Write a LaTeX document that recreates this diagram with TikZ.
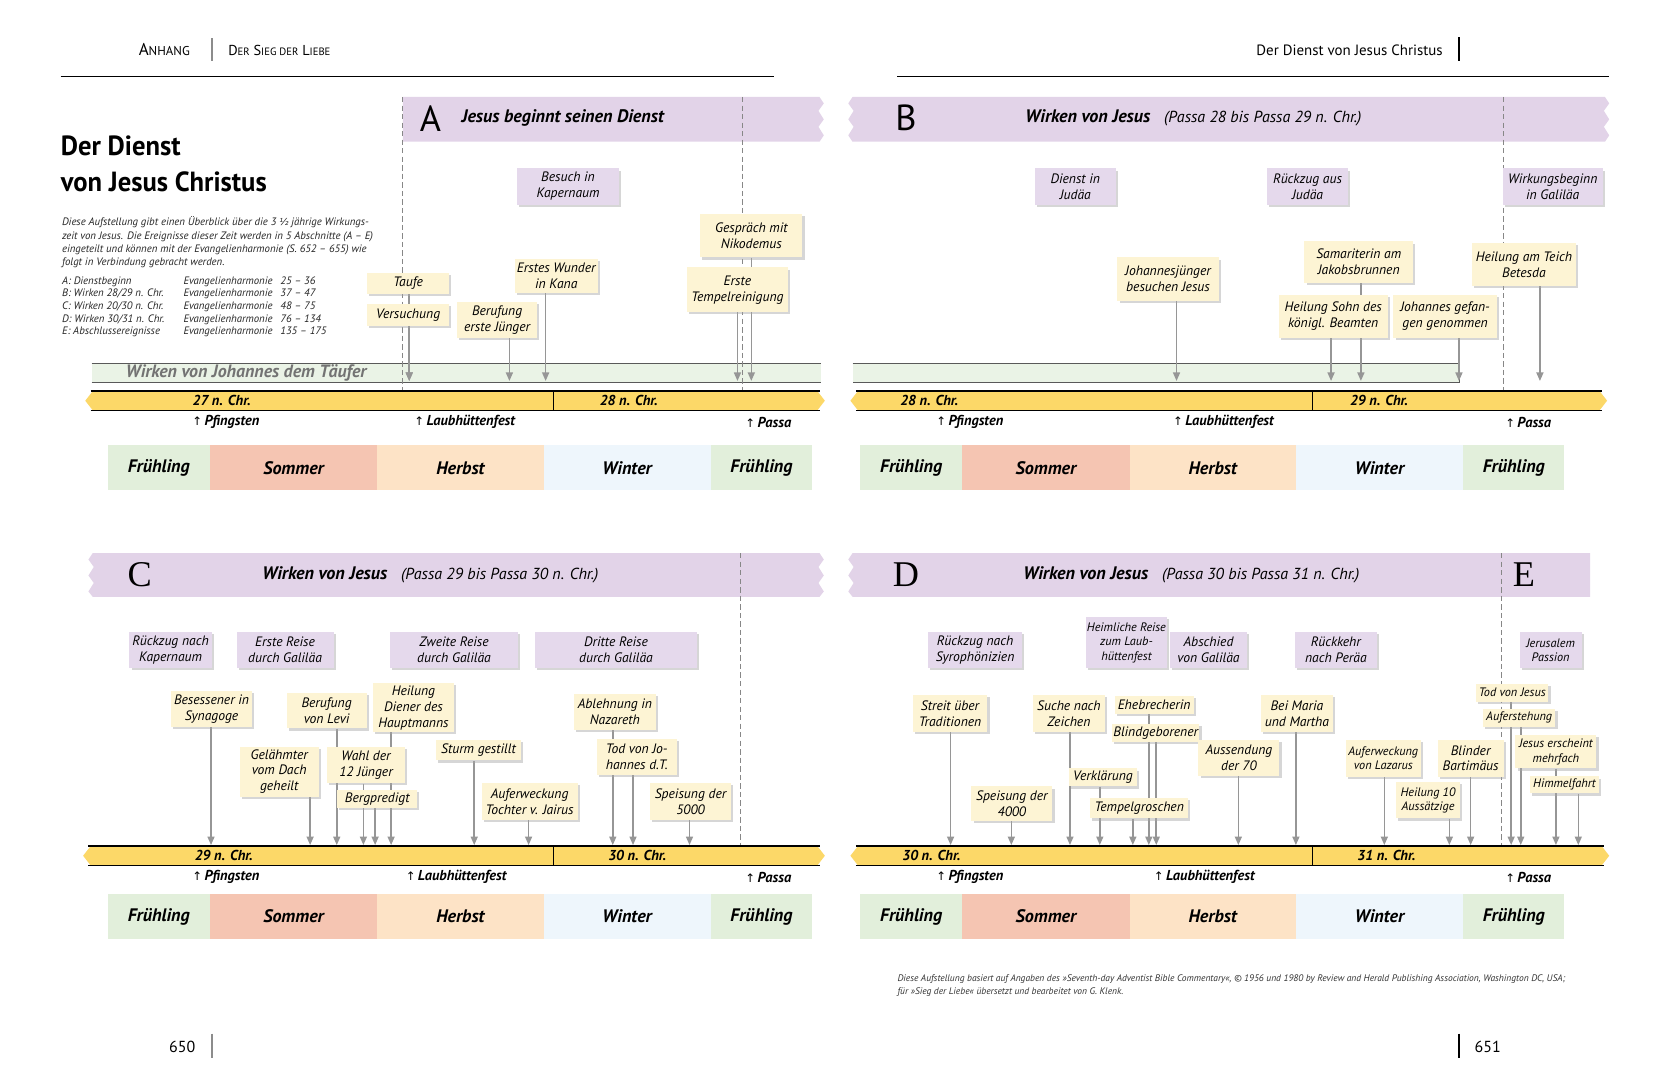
\documentclass[tikz,border=0pt]{standalone}
\usepackage{fontspec}
\setmainfont{PT Sans}
\newfontfamily\titlefont{PT Sans}[FakeStretch=0.96]
\newfontfamily\arrowfont{DejaVu Sans}
\newfontfamily\serifletter{Liberation Serif}
\usepackage{tikz}
\usetikzlibrary{positioning}
\usetikzlibrary{shapes, arrows.meta, shadows}

\definecolor{bannerlila}{RGB}{226,211,232}
\definecolor{phlila}{RGB}{229,217,236}
\definecolor{evyellow}{RGB}{253,244,212}
\definecolor{baryellow}{RGB}{252,216,104}
\definecolor{bandgreen}{RGB}{234,243,230}
\definecolor{fruehling}{RGB}{226,239,219}
\definecolor{sommer}{RGB}{245,197,178}
\definecolor{herbst}{RGB}{253,227,198}
\definecolor{winter}{RGB}{238,246,252}
\definecolor{arrowgray}{RGB}{150,150,150}
\definecolor{dashgray}{RGB}{135,135,135}

\newcommand{\evfont}{\itshape\fontsize{12.8}{15}\selectfont}
\newcommand{\evsmall}{\itshape\fontsize{11.5}{13.5}\selectfont}
\newcommand{\boldit}{\bfseries\itshape}
\newcommand{\feastup}{{\arrowfont\mdseries\upshape\fontsize{11}{11}\selectfont ↑}\,}

\tikzstyle{evbox}     = [rectangle, fill=evyellow, font=\evfont, align=center,
                         inner sep=1pt, minimum height=18pt,
                         drop shadow={shadow xshift=2pt, shadow yshift=-2pt, fill=black!35, opacity=0.45}]
\tikzstyle{phbox}     = [rectangle, fill=phlila, font=\evfont, align=center,
                         inner sep=1pt, minimum height=34pt,
                         drop shadow={shadow xshift=2pt, shadow yshift=-2pt, fill=black!35, opacity=0.45}]
\tikzstyle{seasonbox} = [rectangle, minimum height=42pt, inner sep=0pt,
                         font=\boldit\fontsize{17}{17}\selectfont]
\tikzstyle{evarrow}   = [draw=arrowgray, line width=1.5pt, -{Triangle[length=8pt, width=6.5pt]}]
\tikzstyle{phaseline} = [draw=dashgray, line width=1.1pt, dash pattern=on 5pt off 3pt]
\tikzstyle{yearlabel} = [font=\boldit\fontsize{13.5}{13.5}\selectfont, inner sep=0pt]
\tikzstyle{feast}     = [font=\boldit\fontsize{13.5}{13.5}\selectfont, inner sep=0pt]
\tikzstyle{bannertitle}  = [anchor=west, inner sep=0pt, font=\fontsize{17}{17}\selectfont]
\tikzstyle{bannerletter} = [inner sep=0pt, font=\fontsize{34}{34}\selectfont]

\newcommand{\paren}[1]{{\mdseries\itshape\fontsize{15}{15}\selectfont #1}}

\pgfdeclarelayer{bg}
\pgfsetlayers{bg,main}

\begin{document}
\begin{tikzpicture}[x=1pt, y=-1pt]
\begin{pgfonlayer}{bg}
\fill[white] (0,0) rectangle (1568,1013);
\end{pgfonlayer}
\useasboundingbox (0,0) rectangle (1568,1013);

% page head
\node[anchor=base west, inner sep=0pt, font=\fontsize{16}{16}\selectfont] (anhang) at (130,52) {A{\fontsize{12}{12}\selectfont NHANG}};
\draw[black!45, line width=1.5pt] (199,36) -- (199,57);
\node[anchor=base west, inner sep=0pt, font=\fontsize{13.5}{13.5}\selectfont] (sieg) at (214,52)
  {D{\fontsize{10}{10}\selectfont ER} S{\fontsize{10}{10}\selectfont IEG DER} L{\fontsize{10}{10}\selectfont IEBE}};
\node[anchor=base east, inner sep=0pt, font=\fontsize{14}{14}\selectfont] (kopf) at (1354,52) {Der Dienst von Jesus Christus};
\draw[line width=2.5pt] (1369,35) -- (1369,57);
\draw[line width=0.9pt] (57,72) -- (726,72);
\draw[line width=0.9pt] (842,72) -- (1510,72);

% title and intro
\node[anchor=base west, inner sep=0pt, font=\titlefont\bfseries\fontsize{26}{26}\selectfont] (titel) at (57,146) {Der Dienst};
\node[anchor=base west, inner sep=0pt, font=\titlefont\bfseries\fontsize{26}{26}\selectfont] (titel2) at (57,180) {von Jesus Christus};
\node[anchor=north west, inner sep=0pt, align=left, text=black!85, font=\itshape\fontsize{10.1}{12.6}\selectfont] (intro) at (58,203)
  {Diese Aufstellung gibt einen Überblick über die 3 {\arrowfont\fontsize{9}{9}\selectfont ½} jährige Wirkungs-\\
   zeit von Jesus. Die Ereignisse dieser Zeit werden in 5 Abschnitte (A – E)\\
   eingeteilt und können mit der Evangelienharmonie (S. 652 – 655) wie\\
   folgt in Verbindung gebracht werden.};
\node[anchor=north west, inner sep=0pt, text=black!85, font=\itshape\fontsize{10.1}{11.9}\selectfont] (abschnitte) at (58,258)
  {\begin{tabular}{@{}p{114pt}@{}p{91pt}@{}l@{}}
   A: Dienstbeginn & Evangelienharmonie & 25 – 36\\
   B: Wirken 28/29 n. Chr. & Evangelienharmonie & 37 – 47\\
   C: Wirken 20/30 n. Chr. & Evangelienharmonie & 48 – 75\\
   D: Wirken 30/31 n. Chr. & Evangelienharmonie & 76 – 134\\
   E: Abschlussereignisse & Evangelienharmonie & 135 – 175
   \end{tabular}};

% banners
\fill[bannerlila] (378,91) -- (769,91) -- (773,97) -- (768,104) -- (773,112) -- (768,119) -- (773,127) -- (769,133) -- (378,133) -- cycle;
\fill[bannerlila] (800,91) -- (1506,91) -- (1510,97) -- (1505,104) -- (1510,112) -- (1505,119) -- (1510,127) -- (1506,133)
  -- (800,133) -- (796,127) -- (801,119) -- (796,112) -- (801,104) -- (796,97) -- cycle;
\fill[bannerlila] (87,519) -- (769,519) -- (773,525) -- (768,532) -- (773,540) -- (768,547) -- (773,555) -- (769,560)
  -- (87,560) -- (83,555) -- (88,547) -- (83,540) -- (88,532) -- (83,525) -- cycle;
\fill[bannerlila] (800,519) -- (1492,519) -- (1492,560)
  -- (800,560) -- (796,555) -- (801,547) -- (796,540) -- (801,532) -- (796,525) -- cycle;

% phase borders
\draw[phaseline] (378,91) -- (378,367);
\draw[phaseline] (697,91) -- (697,367);
\draw[phaseline] (1411,91) -- (1411,367);
\draw[phaseline] (695,519) -- (695,794);
\draw[phaseline] (1409,519) -- (1409,794);

% year bars
\foreach \xa/\xb/\ya/\xd in {80/774/367/519, 798/1508/367/1232, 78/774/794/519, 798/1510/794/1232} {
  \fill[baryellow] (\xa+7,\ya) -- (\xb-7,\ya) -- (\xb,\ya+9) -- (\xb-7,\ya+18) -- (\xa+7,\ya+18) -- (\xa,\ya+9) -- cycle;
  \draw[line width=1.3pt] (\xa+5,\ya) -- (\xb-5,\ya) (\xa+5,\ya+18) -- (\xb-5,\ya+18);
  \draw[line width=1pt] (\xd,\ya) -- (\xd,\ya+18);
}

% seasons
\foreach \dx/\dy [count=\i] in {0/0, 706/0, 0/421, 706/421} {
  \node[seasonbox, fill=fruehling, minimum width=96pt] (fr\i) at (149+\dx,439+\dy) {Frühling};
  \node[seasonbox, fill=sommer, minimum width=157pt] (so\i) at (275.5+\dx,439+\dy) {Sommer};
  \node[seasonbox, fill=herbst, minimum width=156pt] (he\i) at (432+\dx,439+\dy) {Herbst};
  \node[seasonbox, fill=winter, minimum width=157pt] (wi\i) at (588.5+\dx,439+\dy) {Winter};
  \node[seasonbox, fill=fruehling, minimum width=95pt] (fs\i) at (714.5+\dx,439+\dy) {Frühling};
}

\coordinate (endA) at (0,357.5);
\coordinate (endB) at (0,357.5);
\coordinate (endC) at (0,793);
\coordinate (endD) at (0,793);

% ---- A ----
\node[bannerletter] (letterA) at (404,111) {A};
\node[bannertitle, font=\boldit\fontsize{17}{17}\selectfont] (titleA) at (433,111) {Jesus beginnt seinen Dienst};
\node[phbox, minimum width=96pt] (besuch) at (533,175) {Besuch in\\Kapernaum};
\node[evbox, minimum width=77pt, minimum height=20pt] (taufe) at (383,266) {Taufe};
\node[evbox, minimum width=77pt, minimum height=21pt] (versuchung) at (383,295.5) {Versuchung};
\node[evbox, minimum width=75pt, minimum height=34pt] (berufung) at (466.5,300) {Berufung\\erste Jünger};
\node[evbox, minimum width=78pt, minimum height=32pt] (wunder) at (522,259) {Erstes Wunder\\in Kana};
\node[evbox, minimum width=96pt, minimum height=41pt] (nikodemus) at (705,221) {Gespräch mit\\Nikodemus};
\node[evbox, minimum width=95pt, minimum height=42pt] (tempel) at (692,272) {Erste\\Tempelreinigung};
\node[anchor=west, inner sep=0pt, text=black!55, font=\boldit\fontsize{16.8}{16.8}\selectfont] (johannes) at (118,350) {Wirken von Johannes dem Täufer};
\node[yearlabel] (y27) at (208,376) {27 n. Chr.};
\node[yearlabel] (y28a) at (590,376) {28 n. Chr.};
\node[feast] (pfingstenA) at (212,396) {\feastup Pfingsten};
\node[feast] (laubA) at (436,396) {\feastup Laubhüttenfest};
\node[feast] (passaA) at (721,396) {\feastup Passa};

% ---- B ----
\node[bannerletter] (letterB) at (850,111) {B};
\node[bannertitle] (titleB) at (962,111) {{\boldit Wirken von Jesus}\hspace{13pt}\paren{(Passa 28 bis Passa 29 n. Chr.)}};
\node[phbox, minimum width=76pt] (judaea) at (1009,175) {Dienst in\\Judäa};
\node[phbox, minimum width=76pt] (rueckzugB) at (1227,175) {Rückzug aus\\Judäa};
\node[phbox, minimum width=94pt] (galilaea) at (1457,175) {Wirkungsbeginn\\in Galiläa};
\node[evbox, minimum width=95pt, minimum height=41pt] (johjuenger) at (1096,262) {Johannesjünger\\besuchen Jesus};
\node[evbox, minimum width=102pt, minimum height=39pt] (samariterin) at (1275,246) {Samariterin am\\Jakobsbrunnen};
\node[evbox, minimum width=102pt, minimum height=40pt] (beamten) at (1251,297) {Heilung Sohn des\\königl. Beamten};
\node[evbox, minimum width=97pt, minimum height=40pt] (gefangen) at (1356,297) {Johannes gefan-\\gen genommen};
\node[evbox, minimum width=97pt, minimum height=40pt] (betesda) at (1430,248) {Heilung am Teich\\Betesda};
\node[yearlabel] (y28b) at (872,376) {28 n. Chr.};
\node[yearlabel] (y29b) at (1294,376) {29 n. Chr.};
\node[feast] (pfingstenB) at (910,396) {\feastup Pfingsten};
\node[feast] (laubB) at (1148,396) {\feastup Laubhüttenfest};
\node[feast] (passaB) at (1434,396) {\feastup Passa};

% ---- C ----
\node[bannerletter, font=\serifletter\fontsize{34}{34}\selectfont] (letterC) at (131,539) {C};
\node[bannertitle] (titleC) at (246,539) {{\boldit Wirken von Jesus}\hspace{13pt}\paren{(Passa 29 bis Passa 30 n. Chr.)}};
\node[phbox, minimum width=77pt] (kapernaumC) at (160,610) {Rückzug nach\\Kapernaum};
\node[phbox, minimum width=91pt] (reise1) at (267.5,610) {Erste Reise\\durch Galiläa};
\node[phbox, minimum width=120pt] (reise2) at (426,610) {Zweite Reise\\durch Galiläa};
\node[phbox, minimum width=152pt] (reise3) at (578,610) {Dritte Reise\\durch Galiläa};
\node[evbox, minimum width=76pt, minimum height=34pt] (besessener) at (198.5,665) {Besessener in\\Synagoge};
\node[evbox, minimum width=75pt, minimum height=33pt] (levi) at (306.5,667) {Berufung\\von Levi};
\node[evbox, minimum width=76pt, minimum height=46pt] (hauptmann) at (388,664) {Heilung\\Diener des\\Hauptmanns};
\node[evbox, minimum width=74pt, minimum height=47pt] (gelaehmter) at (262,724) {Gelähmter\\vom Dach\\geheilt};
\node[evbox, minimum width=73pt, minimum height=34pt] (wahl) at (343.5,718) {Wahl der\\12 Jünger};
\node[evbox, minimum width=75pt, minimum height=17pt] (bergpredigt) at (354,749.5) {Bergpredigt};
\node[evbox, minimum width=80pt, minimum height=19pt] (sturm) at (449,704) {Sturm gestillt};
\node[evbox, minimum width=90pt, minimum height=34pt] (jairus) at (497,752) {Auferweckung\\Tochter v. Jairus};
\node[evbox, minimum width=77pt, minimum height=34pt] (nazareth) at (577,668) {Ablehnung in\\Nazareth};
\node[evbox, minimum width=75pt, minimum height=34pt] (johtod) at (597.5,710) {Tod von Jo-\\hannes d.T.};
\node[evbox, minimum width=76pt, minimum height=34pt] (speisungC) at (648,752) {Speisung der\\5000};
\node[yearlabel] (y29c) at (210,803) {29 n. Chr.};
\node[yearlabel] (y30c) at (598,803) {30 n. Chr.};
\node[feast] (pfingstenC) at (212,823) {\feastup Pfingsten};
\node[feast] (laubC) at (428,823) {\feastup Laubhüttenfest};
\node[feast] (passaC) at (721,823) {\feastup Passa};

% ---- D / E ----
\node[bannerletter, font=\serifletter\fontsize{34}{34}\selectfont] (letterD) at (850,539) {D};
\node[bannertitle] (titleD) at (960,539) {{\boldit Wirken von Jesus}\hspace{13pt}\paren{(Passa 30 bis Passa 31 n. Chr.)}};
\node[bannerletter, font=\serifletter\fontsize{34}{34}\selectfont] (letterE) at (1430,539) {E};
\node[phbox, minimum width=88pt] (syro) at (915,610) {Rückzug nach\\Syrophönizien};
\node[phbox, minimum width=74pt, minimum height=48pt, font=\evsmall] (heimlich) at (1057,603) {Heimliche Reise\\zum Laub-\\hüttenfest};
\node[phbox, minimum width=72pt] (abschied) at (1134,610) {Abschied\\von Galiläa};
\node[phbox, minimum width=77pt] (rueckkehr) at (1253.5,610) {Rückkehr\\nach Peräa};
\node[phbox, minimum width=58pt, font=\evsmall] (jerusalem) at (1455,610) {Jerusalem\\Passion};
\node[evbox, minimum width=70pt, minimum height=35pt] (streit) at (891.5,669.5) {Streit über\\Traditionen};
\node[evbox, minimum width=68pt, minimum height=35pt] (suche) at (1003,669.5) {Suche nach\\Zeichen};
\node[evbox, minimum width=74pt, minimum height=17pt] (ehebrecherin) at (1083,661.5) {Ehebrecherin};
\node[evbox, minimum width=82pt, minimum height=17pt] (blindgeb) at (1084.5,688) {Blindgeborener};
\node[evbox, minimum width=64pt, minimum height=17pt] (verklaerung) at (1035,729.5) {Verklärung};
\node[evbox, minimum width=76pt, minimum height=32pt] (speisungD) at (949.5,754) {Speisung der\\4000};
\node[evbox, minimum width=92pt, minimum height=19pt] (tempelgr) at (1069,758.5) {Tempelgroschen};
\node[evbox, minimum width=76pt, minimum height=34pt] (aussendung) at (1162.5,711) {Aussendung\\der 70};
\node[evbox, minimum width=68pt, minimum height=35pt] (maria) at (1217,669.5) {Bei Maria\\und Martha};
\node[evbox, minimum width=70pt, minimum height=35pt, font=\evsmall] (lazarus) at (1298,711.5) {Auferweckung\\von Lazarus};
\node[evbox, minimum width=60pt, minimum height=34pt, font=\evsmall] (aussaetzige) at (1340,751) {Heilung 10\\Aussätzige};
\node[evbox, minimum width=62pt, minimum height=35pt] (bartimaeus) at (1380,711.5) {Blinder\\Bartimäus};
\node[evbox, minimum width=68pt, minimum height=17pt, font=\evsmall] (todjesus) at (1419,650) {Tod von Jesus};
\node[evbox, minimum width=68pt, minimum height=17pt, font=\evsmall] (auferstehung) at (1425.5,673.5) {Auferstehung};
\node[evbox, minimum width=76pt, minimum height=31pt, font=\evsmall] (erscheint) at (1460,705.5) {Jesus erscheint\\mehrfach};
\node[evbox, minimum width=65pt, minimum height=16pt, font=\evsmall] (himmelfahrt) at (1468,736.5) {Himmelfahrt};
\node[yearlabel] (y30d) at (874,803) {30 n. Chr.};
\node[yearlabel] (y31d) at (1301,803) {31 n. Chr.};
\node[feast] (pfingstenD) at (910,823) {\feastup Pfingsten};
\node[feast] (laubD) at (1130,823) {\feastup Laubhüttenfest};
\node[feast] (passaD) at (1434,823) {\feastup Passa};

% foot
\node[anchor=north west, inner sep=0pt, align=left, text=black!80, font=\itshape\fontsize{8.9}{13}\selectfont] (quelle) at (842,914)
  {Diese Aufstellung basiert auf Angaben des »Seventh-day Adventist Bible Commentary«, © 1956 und 1980 by Review and Herald Publishing Association, Washington DC, USA;\\
   für »Sieg der Liebe« übersetzt und bearbeitet von G. Klenk.};
\node[font=\fontsize{15}{15}\selectfont] (seite650) at (171,982) {650};
\draw[black!45, line width=1.5pt] (199,970) -- (199,993);
\node[font=\fontsize{15}{15}\selectfont] (seite651) at (1396,982) {651};
\draw[line width=2.5pt] (1369,970) -- (1369,993);

% bands and event arrows
\begin{pgfonlayer}{bg}
\fill[bandgreen] (86,341) rectangle (770,359);
\draw[black!65, line width=0.8pt] (86,341) -- (770,341) (86,359) -- (770,359);
\fill[bandgreen] (800,341) rectangle (1369,359);
\draw[black!65, line width=0.8pt] (800,341) -- (1369,341) -- (1369,359) -- (800,359);

\draw[evarrow] (taufe.south -| 384,0) -- (384,0 |- endA);
\draw[evarrow] (versuchung.south -| 384,0) -- (384,0 |- endA);
\draw[evarrow] (berufung.south -| 478,0) -- (478,0 |- endA);
\draw[evarrow] (wunder.south -| 512,0) -- (512,0 |- endA);
\draw[evarrow] (tempel.south -| 692,0) -- (692,0 |- endA);
\draw[evarrow] (nikodemus.south -| 705,0) -- (705,0 |- endA);

\draw[evarrow] (johjuenger.south -| 1104,0) -- (1104,0 |- endB);
\draw[evarrow] (samariterin.south -| 1277,0) -- (1277,0 |- endB);
\draw[evarrow] (beamten.south -| 1249,0) -- (1249,0 |- endB);
\draw[evarrow] (gefangen.south -| 1369,0) -- (1369,0 |- endB);
\draw[evarrow] (betesda.south -| 1445,0) -- (1445,0 |- endB);

\draw[evarrow] (besessener.south -| 198,0) -- (198,0 |- endC);
\draw[evarrow] (levi.south -| 316,0) -- (316,0 |- endC);
\draw[evarrow] (hauptmann.south -| 367,0) -- (367,0 |- endC);
\draw[evarrow] (gelaehmter.south -| 291,0) -- (291,0 |- endC);
\draw[evarrow] (wahl.south -| 341,0) -- (341,0 |- endC);
\draw[evarrow] (bergpredigt.south -| 352,0) -- (352,0 |- endC);
\draw[evarrow] (sturm.south -| 445,0) -- (445,0 |- endC);
\draw[evarrow] (jairus.south -| 496,0) -- (496,0 |- endC);
\draw[evarrow] (nazareth.south -| 575,0) -- (575,0 |- endC);
\draw[evarrow] (johtod.south -| 594,0) -- (594,0 |- endC);
\draw[evarrow] (speisungC.south -| 647,0) -- (647,0 |- endC);

\draw[evarrow] (streit.south -| 892,0) -- (892,0 |- endD);
\draw[evarrow] (speisungD.south -| 949,0) -- (949,0 |- endD);
\draw[evarrow] (suche.south -| 1004,0) -- (1004,0 |- endD);
\draw[evarrow] (verklaerung.south -| 1032,0) -- (1032,0 |- endD);
\draw[evarrow] (tempelgr.south -| 1063,0) -- (1063,0 |- endD);
\draw[evarrow] (ehebrecherin.south -| 1078,0) -- (1078,0 |- endD);
\draw[evarrow] (blindgeb.south -| 1085,0) -- (1085,0 |- endD);
\draw[evarrow] (aussendung.south -| 1162,0) -- (1162,0 |- endD);
\draw[evarrow] (maria.south -| 1216,0) -- (1216,0 |- endD);
\draw[evarrow] (lazarus.south -| 1299,0) -- (1299,0 |- endD);
\draw[evarrow] (aussaetzige.south -| 1360,0) -- (1360,0 |- endD);
\draw[evarrow] (bartimaeus.south -| 1380,0) -- (1380,0 |- endD);
\draw[evarrow] (todjesus.south -| 1418,0) -- (1418,0 |- endD);
\draw[evarrow] (auferstehung.south -| 1427,0) -- (1427,0 |- endD);
\draw[evarrow] (erscheint.south -| 1460,0) -- (1460,0 |- endD);
\draw[evarrow] (himmelfahrt.south -| 1481,0) -- (1481,0 |- endD);
\end{pgfonlayer}
\end{tikzpicture}
\end{document}
